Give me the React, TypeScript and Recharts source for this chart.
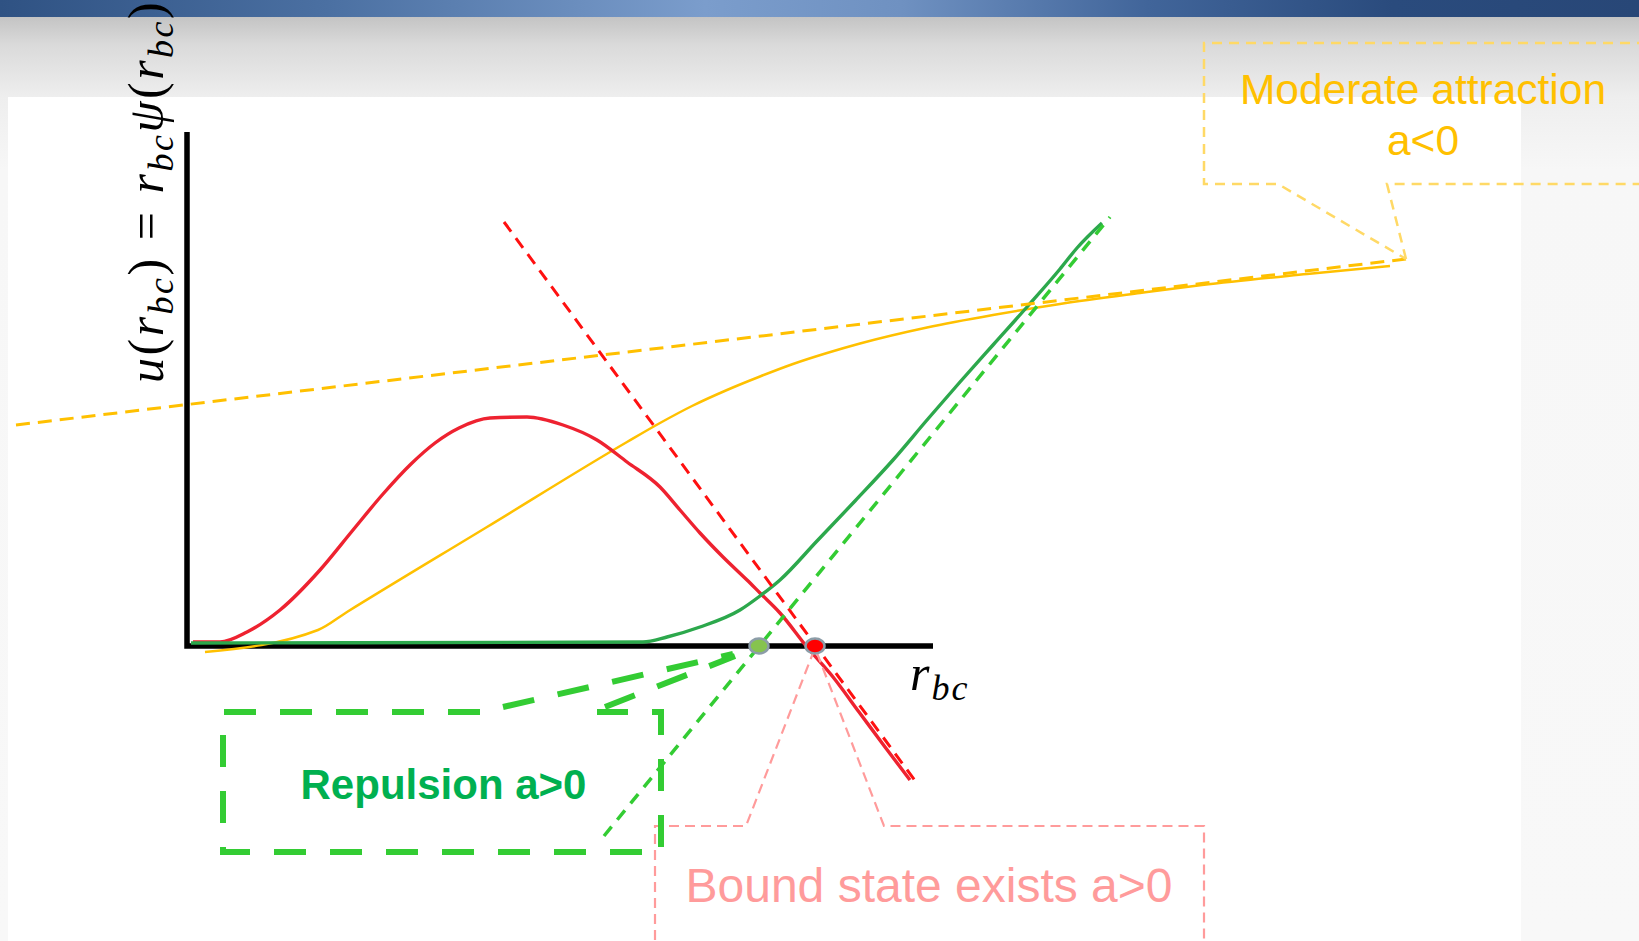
import React from 'react';
import { ComposedChart, Line, Scatter, XAxis, YAxis, ReferenceDot } from 'recharts';

// Chart units: 10 px per unit, origin at the corner of the drawn axes.
// u(r) for the three scattering cases
const boundStateCurve = [
  { x: 0.6, y: 0.4 }, { x: 3.3, y: 0.4 }, { x: 6.0, y: 1.4 }, { x: 9.3, y: 3.6 },
  { x: 13.3, y: 7.6 }, { x: 16.6, y: 11.6 }, { x: 19.6, y: 15.2 }, { x: 22.4, y: 18.2 },
  { x: 24.8, y: 20.3 }, { x: 27.2, y: 21.8 }, { x: 30.3, y: 22.8 }, { x: 34.0, y: 22.9 },
  { x: 37.6, y: 22.1 }, { x: 41.0, y: 20.6 }, { x: 44.0, y: 18.4 }, { x: 47.3, y: 15.9 },
  { x: 49.3, y: 13.6 }, { x: 51.3, y: 11.3 }, { x: 53.6, y: 8.9 }, { x: 56.0, y: 6.6 },
  { x: 57.3, y: 5.3 }, { x: 59.3, y: 3.3 }, { x: 62.0, y: -0.1 }, { x: 64.6, y: -3.1 },
  { x: 67.2, y: -6.6 }, { x: 69.8, y: -10.1 }, { x: 72.3, y: -13.4 },
];

const repulsionCurve = [
  { x: 0.4, y: 0.3 }, { x: 45.6, y: 0.4 }, { x: 48.0, y: 0.9 }, { x: 51.3, y: 1.9 },
  { x: 55.3, y: 3.6 }, { x: 57.3, y: 5.0 }, { x: 59.3, y: 6.6 }, { x: 63.0, y: 10.5 },
  { x: 66.8, y: 14.5 }, { x: 70.6, y: 18.6 }, { x: 74.0, y: 22.6 }, { x: 77.3, y: 26.4 },
  { x: 80.6, y: 30.1 }, { x: 84.0, y: 33.9 }, { x: 87.3, y: 37.7 }, { x: 89.0, y: 39.8 },
  { x: 91.5, y: 42.3 },
];

const attractionCurve = [
  { x: 1.8, y: -0.6 }, { x: 13.1, y: 1.6 }, { x: 16.0, y: 3.4 }, { x: 30.0, y: 11.9 },
  { x: 44.0, y: 20.4 }, { x: 47.3, y: 22.3 }, { x: 50.5, y: 24.0 }, { x: 54.0, y: 25.6 },
  { x: 57.3, y: 26.95 }, { x: 60.6, y: 28.2 }, { x: 64.0, y: 29.3 }, { x: 67.3, y: 30.25 },
  { x: 74.0, y: 31.85 }, { x: 80.6, y: 33.1 }, { x: 87.3, y: 34.2 }, { x: 95.3, y: 35.3 },
  { x: 101.5, y: 36.1 }, { x: 112.0, y: 37.2 }, { x: 120.3, y: 38.0 },
];

// asymptotic straight lines, extrapolated to the r axis
const boundTangent = [{ x: 31.7, y: 42.4 }, { x: 72.9, y: -13.6 }];
const repulsionTangent = [{ x: 41.7, y: -19.0 }, { x: 92.3, y: 42.9 }];
const attractionTangent = [{ x: -17.1, y: 22.1 }, { x: 121.9, y: 38.7 }];

// scattering lengths (intercepts on the r axis)
const repulsionRoot = [{ x: 57.2, y: 0 }];
const boundRoot = [{ x: 62.8, y: 0 }];

const axisFrame = [{ x: 0, y: 51.4 }, { x: 0, y: 0 }, { x: 74.6, y: 0 }];

// callout outlines
const attractionCalloutA = [
  { x: 146, y: 60.3 }, { x: 101.7, y: 60.3 }, { x: 101.7, y: 46.2 }, { x: 109.1, y: 46.2 }, { x: 121.9, y: 38.7 },
];
const attractionCalloutB = [{ x: 121.9, y: 38.7 }, { x: 120.0, y: 46.2 }, { x: 146, y: 46.2 }];
const boundCalloutA = [{ x: 46.8, y: -31 }, { x: 46.8, y: -18.0 }, { x: 55.9, y: -18.0 }, { x: 62.6, y: -0.7 }];
const boundCalloutB = [{ x: 63.0, y: -0.7 }, { x: 69.7, y: -18.0 }, { x: 101.7, y: -18.0 }, { x: 101.7, y: -31 }];
const repulsionBox = [
  { x: 29.3, y: -6.6 }, { x: 3.6, y: -6.6 }, { x: 3.6, y: -20.6 }, { x: 47.4, y: -20.6 }, { x: 47.4, y: -6.6 }, { x: 41.0, y: -6.6 },
];
const repulsionPointerA = [{ x: 31.6, y: -6.1 }, { x: 54.6, y: -0.8 }];
const repulsionPointerB = [{ x: 41.8, y: -6.1 }, { x: 54.8, y: -1.0 }];

const calloutTexts = ['Moderate attraction', 'a<0', 'Bound state exists a>0', 'Repulsion a>0'];

const W = 1639;
const H = 941;
const SANS = '"Liberation Sans", Arial, sans-serif';
const SERIF = '"Liberation Serif", "DejaVu Serif", serif';

const placeText = (draw: (x: number, y: number) => React.ReactNode) => (props: any) => {
  const vb = props.viewBox || {};
  return draw(vb.x, vb.y);
};

const RootMarker = (props: any) => (
  <ellipse cx={props.cx} cy={props.cy} rx={9.5} ry={7.5} fill={props.fill} stroke="#8c9da8" strokeWidth={2.5} />
);

const sub = { fontSize: 36, dy: 10 };

const seg = (key: string, data: { x: number; y: number }[], stroke: string, width: number, dash?: string, type: any = 'linear') => (
  <Line
    key={key}
    data={data}
    dataKey="y"
    type={type}
    stroke={stroke}
    strokeWidth={width}
    strokeDasharray={dash}
    dot={false}
    activeDot={false}
    isAnimationActive={false}
  />
);

const label = (key: string, x: number, y: number, draw: (x: number, y: number) => React.ReactNode) => (
  <ReferenceDot key={key} x={x} y={y} r={0} fill="none" stroke="none" label={placeText(draw)} />
);

export default function App() {
  return (
    <div
      style={{
        position: 'fixed', left: 0, top: 0, width: W, height: H, overflow: 'hidden',
        background: 'linear-gradient(to bottom, #c4c4c4 0px, #c4c4c4 17px, #dadada 45px, #eeeeee 97px, #f7f7f7 170px, #f8f8f8 100%)',
      }}
    >
      <div
        style={{
          position: 'absolute', left: 0, top: 0, width: W, height: 17,
          background: 'linear-gradient(to right, #2f5283 0%, #4b70a2 20%, #7b9dcc 43%, #6f91c1 55%, #41659a 70%, #2a4b7d 85%, #284777 100%)',
        }}
      />
      <div style={{ position: 'absolute', left: 8, top: 97, width: 1513, height: H - 97, background: '#ffffff' }} />
      <div style={{ position: 'absolute', left: 0, top: 0 }}>
        <ComposedChart width={W} height={H} margin={{ top: 0, right: 0, bottom: 0, left: 0 }}>
          <XAxis type="number" dataKey="x" domain={[-18.7, 145.2]} allowDataOverflow hide />
          <YAxis type="number" dataKey="y" domain={[-29.5, 64.6]} allowDataOverflow hide />

          {seg('axes', axisFrame, '#000000', 5.5)}

          {seg('attraction', attractionCurve, '#ffc000', 2.5, undefined, 'monotone')}
          {seg('bound', boundStateCurve, '#ee2230', 3.4, undefined, 'monotone')}
          {seg('repulsion', repulsionCurve, '#2ca84c', 3.4, undefined, 'monotone')}

          {seg('attractionTangent', attractionTangent, '#ffc000', 3, '14 8')}
          {seg('boundTangent', boundTangent, '#ff1010', 3, '12 8')}
          {seg('repulsionTangent', repulsionTangent, '#33cc33', 3.5, '12 9')}

          {seg('attractionCalloutA', attractionCalloutA, '#ffd966', 2.5, '10 7')}
          {seg('attractionCalloutB', attractionCalloutB, '#ffd966', 2.5, '10 7')}
          {seg('boundCalloutA', boundCalloutA, '#ff9b9b', 2.2, '10 6')}
          {seg('boundCalloutB', boundCalloutB, '#ff9b9b', 2.2, '10 6')}
          {seg('repulsionBox', repulsionBox, '#33cc33', 6, '32 24')}
          {seg('repulsionPointerA', repulsionPointerA, '#33cc33', 6, '32 24')}
          {seg('repulsionPointerB', repulsionPointerB, '#33cc33', 6, '32 24')}

          <Scatter data={repulsionRoot} fill="#86c34f" shape={RootMarker} isAnimationActive={false} />
          <Scatter data={boundRoot} fill="#ff0000" shape={RootMarker} isAnimationActive={false} />

          {label('moderate1', 123.6, 54.2, (x, y) => (
            <text x={x} y={y} textAnchor="middle" fontFamily={SANS} fontSize={42.5} fill="#ffc000">{calloutTexts[0]}</text>
          ))}
          {label('moderate2', 123.6, 49.1, (x, y) => (
            <text x={x} y={y} textAnchor="middle" fontFamily={SANS} fontSize={42.5} fill="#ffc000">{calloutTexts[1]}</text>
          ))}
          {label('bound', 74.2, -25.6, (x, y) => (
            <text x={x} y={y} textAnchor="middle" fontFamily={SANS} fontSize={48} fill="#ff9b9b">{calloutTexts[2]}</text>
          ))}
          {label('repulsion', 25.65, -15.3, (x, y) => (
            <text x={x} y={y} textAnchor="middle" fontFamily={SANS} fontSize={42} fontWeight="bold" fill="#00b050">{calloutTexts[3]}</text>
          ))}

          {label('rbc', 72.3, -4.4, (x, y) => (
            <text x={x} y={y} fontFamily={SERIF} fontSize={50} fontStyle="italic" fill="#000" letterSpacing={2}>
              r<tspan fontSize={sub.fontSize} dy={sub.dy}>bc</tspan>
            </text>
          ))}

          {label('ylabel', -2.4, 26.3, (x, y) => (
            <text x={x} y={y} transform={`rotate(-90 ${x} ${y})`} fontFamily={SERIF} fontSize={50} fill="#000" letterSpacing={2.5}>
              <tspan fontStyle="italic">u</tspan>
              <tspan>(</tspan>
              <tspan fontStyle="italic">r</tspan>
              <tspan fontStyle="italic" fontSize={sub.fontSize} dy={sub.dy}>bc</tspan>
              <tspan dy={-sub.dy}>)</tspan>
              <tspan dx={16}>=</tspan>
              <tspan dx={16} fontStyle="italic">r</tspan>
              <tspan fontStyle="italic" fontSize={sub.fontSize} dy={sub.dy}>bc</tspan>
              <tspan fontStyle="italic" dy={-sub.dy}>ψ</tspan>
              <tspan>(</tspan>
              <tspan fontStyle="italic">r</tspan>
              <tspan fontStyle="italic" fontSize={sub.fontSize} dy={sub.dy}>bc</tspan>
              <tspan dy={-sub.dy}>)</tspan>
            </text>
          ))}
        </ComposedChart>
      </div>
    </div>
  );
}
